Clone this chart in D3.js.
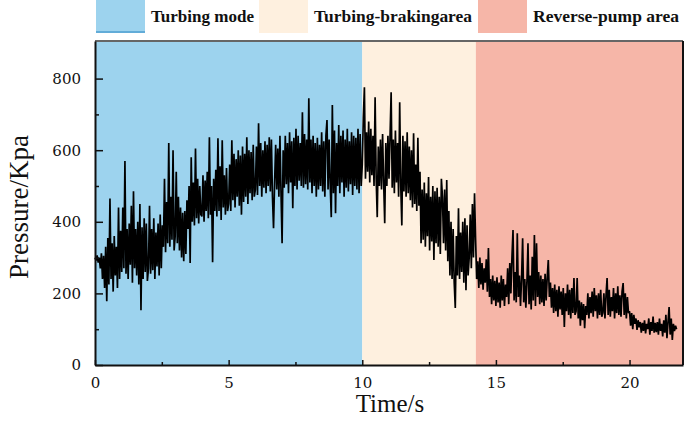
<!DOCTYPE html>
<html><head><meta charset="utf-8">
<script src="https://cdn.jsdelivr.net/npm/d3@7/dist/d3.min.js"></script>
<style>html,body{margin:0;padding:0;background:#fff;}svg{display:block;}</style>
</head><body>
<svg id="chart" width="685" height="421"></svg>
<script>
// ---- data ----
const sampleStep = 0.04; // seconds between samples
const turbingPressure = [
300,292,306,286,300,270,312,240,305,215,330,178,355,225,465,240,340,205,360,250,330,215,440,240,375,
260,440,270,570,255,380,240,395,280,445,230,485,270,380,250,400,225,450,153,385,240,410,260,395,235,
270,445,255,380,265,410,240,370,275,395,250,420,270,390,330,520,315,455,340,620,330,470,350,600,320,
360,540,340,470,320,440,300,425,290,430,310,460,380,500,285,580,400,510,390,605,410,520,395,500,420,
415,530,400,515,430,540,410,636,420,500,287,520,430,545,415,633,430,555,405,628,440,530,420,550,430,
450,560,430,628,460,590,440,575,470,600,445,585,420,610,455,590,470,636,450,600,480,595,460,615,470,
490,610,475,675,500,620,470,600,495,625,480,615,500,636,485,630,470,382,510,615,490,605,470,640,480,
340,600,495,640,505,620,480,650,510,625,438,635,500,660,490,640,515,620,500,706,495,645,505,630,490,
745,510,630,480,640,500,620,470,635,490,615,500,650,485,625,470,640,684,490,630,505,413,726,480,655,
424,620,500,670,480,640,510,655,470,630,495,660,485,625,505,650,475,640,500,635,490,660,480,645,500
];
const brakingPressure = [
560,690,776,520,650,540,680,510,660,530,640,500,748,520,413,610,500,630,490,645,510,396,620,500,640,
520,640,762,495,630,480,655,510,620,470,734,500,390,640,485,625,470,650,480,610,460,600,440,647,450,
560,430,635,445,540,340,490,350,510,330,480,360,525,320,470,345,500,293,485,340,495,330,470,310,520,
470,340,490,320,517,290,430,250,400,240,380,230,159,360,250,438,240,370,260,400,230,410,209,390,250,
300,420,270,450,300,480,350
];
const pumpPressure = [
240,290,215,300,225,285,210,270,230,295,205,327,190,240,170,250,180,235,
165,245,175,230,160,250,180,240,165,225,190,270,170,285,200,300,377,180,260,175,368,190,250,165,240,
354,175,240,160,230,340,170,250,155,302,180,363,165,340,190,260,170,250,175,240,165,255,180,245,293,
190,230,160,215,145,225,150,210,135,220,155,205,140,215,106,200,150,225,140,210,130,215,145,243,140,
150,243,130,180,110,175,125,170,103,165,140,200,130,190,145,205,135,215,150,195,130,200,140,210,135,
145,200,130,195,243,140,210,135,190,150,215,130,200,145,220,140,195,135,205,229,140,200,130,190,145,
150,110,145,100,140,115,130,98,125,105,120,90,118,95,125,88,115,100,130,85,120,95,135,90,118,
92,120,85,130,95,115,80,125,90,140,75,120,162,85,130,70,115,95,110,100
];
const regionNames = ["Turbing mode", "Turbing-brakingarea", "Reverse-pump area"];
const regionStart = [0, 10, 14.25];
const regionEnd = [10, 14.25, 22];
const regionColors = ["#9DD3EE", "#FEF0DF", "#F6B6A8"];
const xMajorTicks = [0, 5, 10, 15, 20];
const xMinorTicks = [2.5, 7.5, 12.5, 17.5];
const yMajorTicks = [0, 200, 400, 600, 800];
const yMinorTicks = [100, 300, 500, 700];
const xTitle = "Time/s";
const yTitle = "Pressure/Kpa";

// ---- drawing ----
const svg = d3.select("#chart");
const L = 95, R = 683, T = 41, B = 365;
const x = d3.scaleLinear().domain([0, 22]).range([L, R]);
const y = d3.scaleLinear().domain([0, 905]).range([B, T]);
const serif = "'Liberation Serif','Times New Roman',serif";
const tickFont = "'DejaVu Serif',serif";

// background regions
svg.append("g").selectAll("rect").data(regionNames).join("rect")
  .attr("x", (d, i) => x(regionStart[i]))
  .attr("width", (d, i) => x(regionEnd[i]) - x(regionStart[i]))
  .attr("y", T).attr("height", B - T)
  .attr("fill", (d, i) => regionColors[i]);

// series
const series = turbingPressure.concat(brakingPressure, pumpPressure);
const line = d3.line().x((d, i) => x(i * sampleStep)).y(d => y(d));
svg.append("path").datum(series)
  .attr("d", line).attr("fill", "none")
  .attr("stroke", "#000").attr("stroke-width", 1.7).attr("stroke-linejoin", "bevel");

// frame
svg.append("line").attr("x1", L).attr("x2", R).attr("y1", T).attr("y2", T)
  .attr("stroke", "#666").attr("stroke-width", 2);
svg.append("line").attr("x1", R).attr("x2", R).attr("y1", T).attr("y2", B)
  .attr("stroke", "#111").attr("stroke-width", 2);

// axes
svg.append("g").attr("transform", `translate(0,${B})`)
  .call(d3.axisBottom(x).tickValues(xMajorTicks).tickSizeInner(-5).tickSizeOuter(0).tickPadding(12));
svg.append("g").attr("transform", `translate(0,${B})`)
  .call(d3.axisBottom(x).tickValues(xMinorTicks).tickSizeInner(-3).tickSizeOuter(0).tickFormat(""))
  .call(g => g.select(".domain").remove());
svg.append("g").attr("transform", `translate(${L},0)`)
  .call(d3.axisLeft(y).tickValues(yMajorTicks).tickSizeInner(-8).tickSizeOuter(0).tickPadding(14));
svg.append("g").attr("transform", `translate(${L},0)`)
  .call(d3.axisLeft(y).tickValues(yMinorTicks).tickSizeInner(-4).tickSizeOuter(0).tickFormat(""))
  .call(g => g.select(".domain").remove());
svg.selectAll(".domain").attr("stroke", "#111").attr("stroke-width", 2);
svg.selectAll(".tick line").attr("stroke", "#111").attr("stroke-width", 1.5);
svg.selectAll(".tick text").attr("font-family", tickFont).attr("font-size", 15).attr("fill", "#111");

// axis titles
svg.append("text").attr("x", (L + R) / 2 + 1).attr("y", 412)
  .attr("text-anchor", "middle").attr("font-family", serif).attr("font-size", 25).attr("fill", "#111")
  .text(xTitle);
svg.append("text").attr("transform", `translate(28,${(T + B) / 2 + 4}) rotate(-90)`)
  .attr("text-anchor", "middle").attr("font-family", serif).attr("font-size", 27).attr("fill", "#111")
  .text(yTitle);

// legend
const legendX = [96, 259, 478];
const legendTextW = [103, 158, 146];
const lg = svg.append("g").selectAll("g").data(regionNames).join("g")
  .attr("transform", (d, i) => `translate(${legendX[i]},0)`);
lg.append("rect").attr("x", 0).attr("y", 0).attr("width", 49).attr("height", 33)
  .attr("fill", (d, i) => regionColors[i]);
lg.filter((d, i) => i === 0).append("line").attr("x1", 0).attr("x2", 49).attr("y1", 32).attr("y2", 32)
  .attr("stroke", "#4f9fd0").attr("stroke-width", 1.5);
lg.append("text").attr("x", 55).attr("y", 22)
  .attr("font-family", serif).attr("font-weight", "bold").attr("font-size", 16).attr("fill", "#111")
  .attr("textLength", (d, i) => legendTextW[i]).attr("lengthAdjust", "spacingAndGlyphs")
  .text(d => d);
</script>
</body></html>
